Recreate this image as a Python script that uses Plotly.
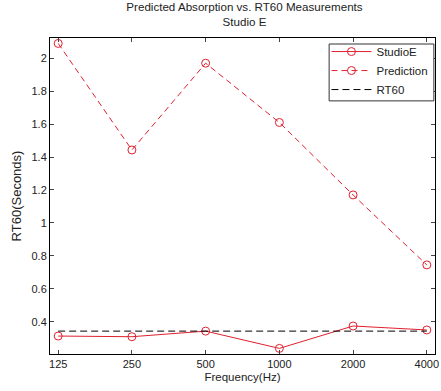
import plotly.graph_objects as go
import math

freqs = [125, 250, 500, 1000, 2000, 4000]
freq_labels = ["125", "250", "500", "1000", "2000", "4000"]
studio_e = [0.313, 0.309, 0.343, 0.238, 0.374, 0.350]
prediction = [2.09, 1.443, 1.97, 1.61, 1.17, 0.745]
rt60 = [0.343, 0.343, 0.343, 0.343, 0.343, 0.343]

red = "#e0202e"
fam = "Liberation Sans, Arial, sans-serif"
font = dict(family=fam, size=11, color="#222222")

fig = go.Figure()
fig.add_trace(go.Scatter(x=freqs, y=studio_e, name="StudioE", mode="lines+markers",
                         line=dict(color=red, width=1),
                         marker=dict(symbol="circle-open", size=8, color=red, line=dict(width=1))))
fig.add_trace(go.Scatter(x=freqs, y=prediction, name="Prediction", mode="lines+markers",
                         line=dict(color=red, width=1, dash="6px,4px"),
                         marker=dict(symbol="circle-open", size=8, color=red, line=dict(width=1))))
fig.add_trace(go.Scatter(x=freqs, y=rt60, name="RT60", mode="lines",
                         line=dict(color="black", width=1, dash="7px,4px")))

# legend frame (drawn as a shape so it hugs the entries like the original)
fig.add_shape(type="rect", xref="paper", yref="paper",
              x0=0.725, x1=0.997, y0=0.801, y1=0.981,
              line=dict(color="#333333", width=1), fillcolor="white", layer="above")

oct_pad = 0.111 * math.log10(2)
fig.update_layout(
    width=441, height=391,
    margin=dict(l=50, r=2, t=38, b=37),
    paper_bgcolor="white", plot_bgcolor="white",
    font=font,
    title=dict(text="Predicted Absorption vs. RT60 Measurements<br>Studio E",
               x=(50 + 389 / 2) / 441, xanchor="center",
               yref="container", y=1, yanchor="top", pad=dict(t=11),
               font=dict(family=fam, size=11.6, color="#222222")),
    showlegend=True,
    legend=dict(x=0.996, xanchor="right", y=1.003, yanchor="top",
                borderwidth=0, bgcolor="rgba(0,0,0,0)",
                font=dict(size=11.5), tracegroupgap=0, itemwidth=40),
    xaxis=dict(type="log", range=[math.log10(125) - oct_pad, math.log10(4000) + oct_pad],
               tickvals=freqs, ticktext=freq_labels, ticks="inside", ticklen=4,
               ticklabeloverflow="allow",
               showline=True, linecolor="black", linewidth=1, mirror="ticks",
               showgrid=False, zeroline=False,
               title=dict(text="Frequency(Hz)", standoff=3, font=dict(size=11.5))),
    yaxis=dict(range=[0.204, 2.123], dtick=0.2, tick0=0, ticks="inside", ticklen=4,
               showline=True, linecolor="black", linewidth=1, mirror="ticks",
               showgrid=False, zeroline=False,
               title=dict(text="RT60(Seconds)", standoff=6, font=dict(size=13))),
)

fig.write_html("out.html", config={"displayModeBar": False},
               post_script="document.body.style.margin='0';document.body.style.overflow='hidden';")
